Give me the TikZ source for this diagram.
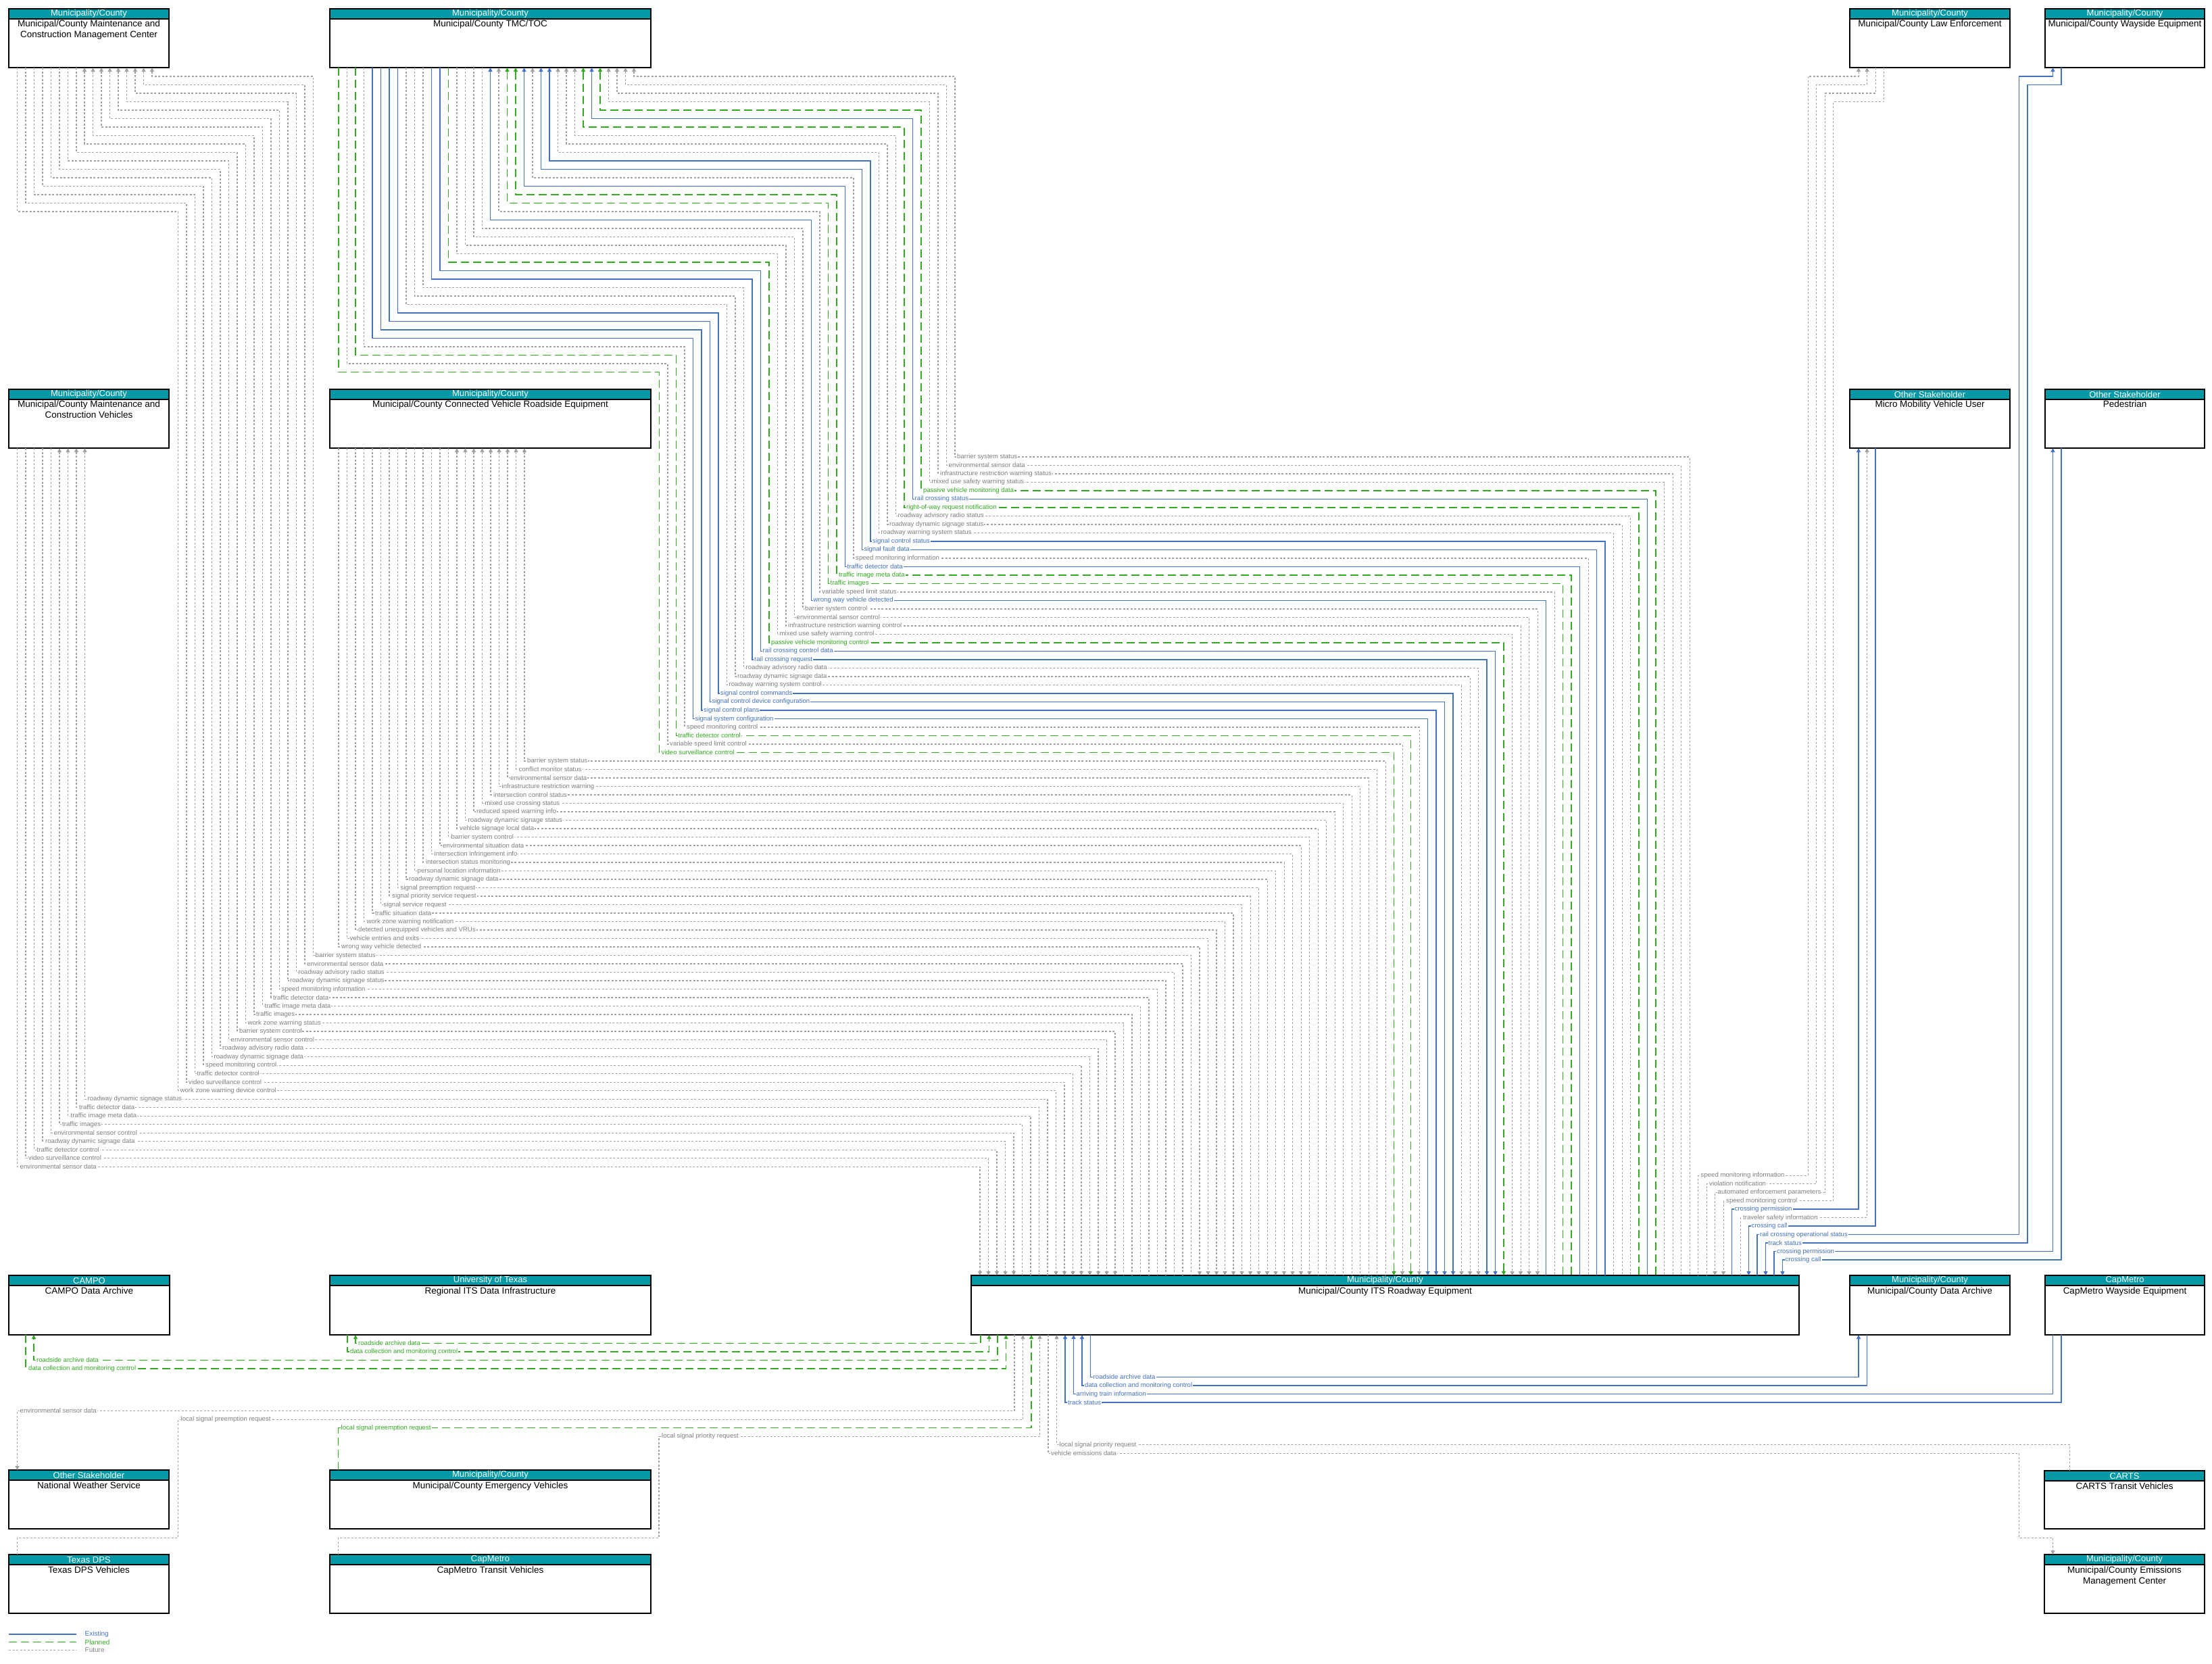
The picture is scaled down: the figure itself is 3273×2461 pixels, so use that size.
\documentclass[tikz,border=0pt]{standalone}
\usepackage{fontspec}
\setmainfont{Liberation Sans}
\usetikzlibrary{arrows.meta}
\definecolor{cblue}{RGB}{68,114,196}
\definecolor{cgreen}{RGB}{51,170,34}
\definecolor{cgray}{RGB}{162,162,162}
\definecolor{cgtext}{RGB}{128,128,128}
\definecolor{cteal}{RGB}{0,153,165}
\newcommand\lblfont{\fontsize{9.6}{10}\selectfont}
\newcommand\entity[7]{%
  \node[entbox, minimum width=#4pt, minimum height=#5pt] (#1) at (#2,#3) {};
  \fill[cteal] (#1.north west) rectangle ([yshift=-15pt]#1.north east);
  \draw[line width=1.1pt] ([yshift=-15pt]#1.north west) -- ([yshift=-15pt]#1.north east);
  \draw[line width=1.3pt] (#1.north west) rectangle (#1.south east);
  \node[hdrtxt] (#1-s) at ([yshift=-7.6pt]#1.north) {#6};
  \node[nametxt] (#1-t) at ([yshift=-17pt]#1.north) {#7};
}
\begin{document}
\begin{tikzpicture}[x=1pt,y=-1pt,
  entbox/.style={rectangle, anchor=north west, fill=white, inner sep=0pt, outer sep=0pt},
  hdrtxt/.style={text=white, inner sep=0pt, font=\fontsize{13}{14}\selectfont},
  nametxt/.style={anchor=north, align=center, inner sep=0pt, font=\fontsize{13.5}{16}\selectfont},
  lnE/.style={draw=cblue, line width=1.35pt},
  lnP/.style={draw=cgreen, line width=1.7pt, dash pattern=on 12pt off 6pt},
  lnF/.style={draw=cgray, line width=1.05pt, dash pattern=on 3pt off 2.5pt},
  lbl/.style={anchor=west, fill=white, inner xsep=1pt, inner ysep=0.6pt, font=\lblfont},
  txE/.style={lbl, text=cblue},
  txP/.style={lbl, text=cgreen},
  txF/.style={lbl, text=cgtext},
  tipS/.style={{Triangle[width=6pt,length=6pt]}-},
  tipE/.style={-{Triangle[width=6pt,length=6pt]}},
  lgtxt/.style={anchor=west, inner sep=0pt, font=\fontsize{10}{11}\selectfont}
]
\useasboundingbox (0,0) rectangle (3273,2461);

% ---------------- entities ----------------
\entity{MCM}{13}{13}{237}{87}{Municipality/County}{Municipal/County Maintenance and\\Construction Management Center}
\entity{TMC}{488}{13}{475}{87}{Municipality/County}{Municipal/County TMC/TOC}
\entity{LE}{2737}{13}{237}{87}{Municipality/County}{Municipal/County Law Enforcement}
\entity{WE}{3026}{13}{236}{87}{Municipality/County}{Municipal/County Wayside Equipment}
\entity{MCV}{13}{576}{237}{87}{Municipality/County}{Municipal/County Maintenance and\\Construction Vehicles}
\entity{CV}{488}{576}{475}{87}{Municipality/County}{Municipal/County Connected Vehicle Roadside Equipment}
\entity{MM}{2737}{576}{237}{87}{Other Stakeholder}{Micro Mobility Vehicle User}
\entity{PED}{3026}{576}{236}{87}{Other Stakeholder}{Pedestrian}
\entity{CAMPO}{13}{1887}{238}{88}{CAMPO}{CAMPO Data Archive}
\entity{UT}{488}{1887}{475}{88}{University of Texas}{Regional ITS Data Infrastructure}
\entity{RE}{1437}{1887}{1225}{88}{Municipality/County}{Municipal/County ITS Roadway Equipment}
\entity{DA}{2737}{1887}{237}{88}{Municipality/County}{Municipal/County Data Archive}
\entity{CW}{3026}{1887}{236}{88}{CapMetro}{CapMetro Wayside Equipment}
\entity{NWS}{13}{2175}{237}{87}{Other Stakeholder}{National Weather Service}
\entity{EV}{488}{2175}{475}{87}{Municipality/County}{Municipal/County Emergency Vehicles}
\entity{CARTS}{3025}{2176}{237}{86}{CARTS}{CARTS Transit Vehicles}
\entity{DPS}{13}{2300}{237}{87}{Texas DPS}{Texas DPS Vehicles}
\entity{CT}{488}{2300}{475}{87}{CapMetro}{CapMetro Transit Vehicles}
\entity{EM}{3025}{2300}{237}{87}{Municipality/County}{Municipal/County Emissions\\Management Center}

% ---------------- TMC <-> RE ----------------
\foreach \nm/\s/\t [count=\n from 0] in {
barrier system status/lnF/txF,
environmental sensor data/lnF/txF,
infrastructure restriction warning status/lnF/txF,
mixed use safety warning status/lnF/txF,
passive vehicle monitoring data/lnP/txP,
rail crossing status/lnE/txE,
right-of-way request notification/lnP/txP,
roadway advisory radio status/lnF/txF,
roadway dynamic signage status/lnF/txF,
roadway warning system status/lnF/txF,
signal control status/lnE/txE,
signal fault data/lnE/txE,
speed monitoring information/lnF/txF,
traffic detector data/lnE/txE,
traffic image meta data/lnP/txP,
traffic images/lnP/txP,
variable speed limit status/lnF/txF,
wrong way vehicle detected/lnE/txE,
barrier system control/lnF/txF,
environmental sensor control/lnF/txF,
infrastructure restriction warning control/lnF/txF,
mixed use safety warning control/lnF/txF,
passive vehicle monitoring control/lnP/txP,
rail crossing control data/lnE/txE,
rail crossing request/lnE/txE,
roadway advisory radio data/lnF/txF,
roadway dynamic signage data/lnF/txF,
roadway warning system control/lnF/txF,
signal control commands/lnE/txE,
signal control device configuration/lnE/txE,
signal control plans/lnE/txE,
signal system configuration/lnE/txE,
speed monitoring control/lnF/txF,
traffic detector control/lnP/txP,
variable speed limit control/lnF/txF,
video surveillance control/lnP/txP}{
  \pgfmathsetmacro\xR{2500-12.5*\n}
  \pgfmathsetmacro\yH{676+12.5*\n}
  \ifnum\n<18
    \pgfmathsetmacro\xT{938-12.5*\n}
    \pgfmathsetmacro\yJ{113+12.5*\n}
    \pgfmathsetmacro\xV{1413-12.5*\n}
    \def\tp{tipS}
  \else
    \pgfmathsetmacro\xT{713.5-12.5*(\n-18)}
    \pgfmathsetmacro\yJ{338+12.5*(\n-18)}
    \pgfmathsetmacro\xV{1188-12.5*(\n-18)}
    \def\tp{tipE}
  \fi
  \draw[\s,\tp] (\xT,0 |- TMC.south) |- (\xV,\yJ) |- (\xR,\yH) -- (\xR,0 |- RE.north);
  \node[\t] (ta\n) at (\xV+2,\yH) {\nm};
}

% ---------------- CV RSE <-> RE ----------------
\foreach \nm [count=\k from 0] in {
barrier system status, conflict monitor status, environmental sensor data,
infrastructure restriction warning, intersection control status, mixed use crossing status,
reduced speed warning info, roadway dynamic signage status, vehicle signage local data,
barrier system control, environmental situation data, intersection infringement info,
intersection status monitoring, personal location information, roadway dynamic signage data,
signal preemption request, signal priority service request, signal service request,
traffic situation data, work zone warning notification, detected unequipped vehicles and VRUs,
vehicle entries and exits, wrong way vehicle detected}{
  \pgfmathsetmacro\xR{2500-12.5*(\k+36)}
  \pgfmathsetmacro\yH{676+12.5*(\k+36)}
  \pgfmathsetmacro\xT{776-12.5*\k}
  \ifnum\k<9 \def\tp{tipS}\else\def\tp{tipE}\fi
  \draw[lnF,\tp] (\xT,0 |- CV.south) |- (\xR,\yH) -- (\xR,0 |- RE.north);
  \node[txF] (tb\k) at (\xT+3,\yH) {\nm};
}

% ---------------- Maint. Center <-> RE ----------------
\foreach \nm [count=\p from 0] in {
barrier system status, environmental sensor data, roadway advisory radio status,
roadway dynamic signage status, speed monitoring information, traffic detector data,
traffic image meta data, traffic images, work zone warning status,
barrier system control, environmental sensor control, roadway advisory radio data,
roadway dynamic signage data, speed monitoring control, traffic detector control,
video surveillance control, work zone warning device control}{
  \pgfmathsetmacro\xR{2500-12.5*(\p+59)}
  \pgfmathsetmacro\yH{676+12.5*(\p+59)}
  \ifnum\p<9
    \pgfmathsetmacro\xT{225-12.5*\p}
    \pgfmathsetmacro\yJ{113+12.5*\p}
    \pgfmathsetmacro\xV{463.5-12.5*\p}
    \def\tp{tipS}
  \else
    \pgfmathsetmacro\xT{113-12.5*(\p-9)}
    \pgfmathsetmacro\yJ{225.5+12.5*(\p-9)}
    \pgfmathsetmacro\xV{351-12.5*(\p-9)}
    \def\tp{tipE}
  \fi
  \draw[lnF,\tp] (\xT,0 |- MCM.south) |- (\xV,\yJ) |- (\xR,\yH) -- (\xR,0 |- RE.north);
  \node[txF] (tc\p) at (\xV+2,\yH) {\nm};
}

% ---------------- Maint. Vehicles <-> RE ----------------
\foreach \nm [count=\r from 0] in {
roadway dynamic signage status, traffic detector data, traffic image meta data, traffic images,
environmental sensor control, roadway dynamic signage data, traffic detector control,
video surveillance control, environmental sensor data}{
  \pgfmathsetmacro\xR{2500-12.5*(\r+76)}
  \pgfmathsetmacro\yH{676+12.5*(\r+76)}
  \pgfmathsetmacro\xT{125.5-12.5*\r}
  \ifnum\r<4 \def\tp{tipS}\else\def\tp{tipE}\fi
  \draw[lnF,\tp] (\xT,0 |- MCV.south) |- (\xR,\yH) -- (\xR,0 |- RE.north);
  \node[txF] (td\r) at (\xT+3,\yH) {\nm};
}

% ---------------- right-hand flows ----------------
\draw[lnF,tipS] (2750,0 |- LE.south) |- (2675,113) |- (2512.5,1739) -- (2512.5,0 |- RE.north);
\node[txF] (te0) at (2515.5,1739) {speed monitoring information};
\draw[lnF,tipS] (2762.5,0 |- LE.south) |- (2687.5,125.5) |- (2525,1751.5) -- (2525,0 |- RE.north);
\node[txF] (te1) at (2528,1751.5) {violation notification};
\draw[lnF,tipE] (2775,0 |- LE.south) |- (2700,138) |- (2537.5,1764) -- (2537.5,0 |- RE.north);
\node[txF] (te2) at (2540.5,1764) {automated enforcement parameters};
\draw[lnF,tipE] (2787.5,0 |- LE.south) |- (2712.5,150.5) |- (2550,1776.5) -- (2550,0 |- RE.north);
\node[txF] (te3) at (2553,1776.5) {speed monitoring control};
\draw[lnE,tipS] (2750,0 |- MM.south) |- (2562.5,1789) -- (2562.5,0 |- RE.north);
\node[txE] (te4) at (2565.5,1789) {crossing permission};
\draw[lnF,tipS] (2762.5,0 |- MM.south) |- (2575,1801.5) -- (2575,0 |- RE.north);
\node[txF] (te5) at (2578,1801.5) {traveler safety information};
\draw[lnE,tipE] (2775,0 |- MM.south) |- (2587.5,1814) -- (2587.5,0 |- RE.north);
\node[txE] (te6) at (2590.5,1814) {crossing call};
\draw[lnE,tipS] (3037.5,0 |- WE.south) |- (2987.5,113) |- (2600,1826.5) -- (2600,0 |- RE.north);
\node[txE] (te7) at (2603,1826.5) {rail crossing operational status};
\draw[lnE,tipE] (3050,0 |- WE.south) |- (3000,125.5) |- (2612.5,1839) -- (2612.5,0 |- RE.north);
\node[txE] (te8) at (2615.5,1839) {track status};
\draw[lnE,tipS] (3037.5,0 |- PED.south) |- (2625,1851.5) -- (2625,0 |- RE.north);
\node[txE] (te9) at (2628,1851.5) {crossing permission};
\draw[lnE,tipE] (3050,0 |- PED.south) |- (2637.5,1864) -- (2637.5,0 |- RE.north);
\node[txE] (te10) at (2640.5,1864) {crossing call};

% ---------------- bottom flows ----------------
\draw[lnP,tipE] (1451,0 |- RE.south) |- (526,1987.5) -- (526,0 |- UT.south);
\node[txP] (tf0) at (529,1987.5) {roadside archive data};
\draw[lnP,tipE] (514,0 |- UT.south) |- (1463.5,2000) -- (1463.5,0 |- RE.south);
\node[txP] (tf1) at (517,2000) {data collection and monitoring control};
\draw[lnP,tipE] (1476,0 |- RE.south) |- (50,2012.5) -- (50,0 |- CAMPO.south);
\node[txP] (tf2) at (53,2012.5) {roadside archive data};
\draw[lnP,tipE] (38,0 |- CAMPO.south) |- (1488.5,2025) -- (1488.5,0 |- RE.south);
\node[txP] (tf3) at (41,2025) {data collection and monitoring control};
\draw[lnF,tipE] (1501,0 |- RE.south) |- (25.5,2087.5) -- (25.5,0 |- NWS.north);
\node[txF] (tf4) at (28.5,2087.5) {environmental sensor data};
\draw[lnF,tipE] (25.5,0 |- DPS.north) |- (263.5,2275) |- (1513.5,2100) -- (1513.5,0 |- RE.south);
\node[txF] (tf5) at (266.5,2100) {local signal preemption request};
\draw[lnP,tipE] (500.5,0 |- EV.north) |- (1526,2112.5) -- (1526,0 |- RE.south);
\node[txP] (tf6) at (503.5,2112.5) {local signal preemption request};
\draw[lnF,tipE] (500.5,0 |- CT.north) |- (975,2275) |- (1538.5,2125) -- (1538.5,0 |- RE.south);
\node[txF] (tf7) at (978,2125) {local signal priority request};
\draw[lnF,tipE] (1551,0 |- RE.south) |- (2987.5,2150) |- (3037.5,2275) -- (3037.5,0 |- EM.north);
\node[txF] (tf8) at (1554,2150) {vehicle emissions data};
\draw[lnF,tipE] (3062.5,0 |- CARTS.north) |- (1563.5,2137.5) -- (1563.5,0 |- RE.south);
\node[txF] (tf9) at (1566.5,2137.5) {local signal priority request};
\draw[lnE,tipE] (3050,0 |- CW.south) |- (1576,2075) -- (1576,0 |- RE.south);
\node[txE] (tf10) at (1579,2075) {track status};
\draw[lnE,tipE] (3037.5,0 |- CW.south) |- (1588.5,2062.5) -- (1588.5,0 |- RE.south);
\node[txE] (tf11) at (1591.5,2062.5) {arriving train information};
\draw[lnE,tipE] (2762.5,0 |- DA.south) |- (1601,2050) -- (1601,0 |- RE.south);
\node[txE] (tf12) at (1604,2050) {data collection and monitoring control};
\draw[lnE,tipE] (1613.5,0 |- RE.south) |- (2750,2037.5) -- (2750,0 |- DA.south);
\node[txE] (tf13) at (1616.5,2037.5) {roadside archive data};

% ---------------- legend ----------------
\coordinate (lgE1) at (13,2418); \coordinate (lgE2) at (113,2418);
\coordinate (lgP1) at (13,2429.5); \coordinate (lgP2) at (113,2429.5);
\coordinate (lgF1) at (13,2441); \coordinate (lgF2) at (113,2441);
\draw[lnE] (lgE1) -- (lgE2);
\draw[lnP] (lgP1) -- (lgP2);
\draw[lnF] (lgF1) -- (lgF2);
\node[lgtxt, text=cblue] (lgEt) at (125.5,2418) {Existing};
\node[lgtxt, text=cgreen] (lgPt) at (125.5,2429.5) {Planned};
\node[lgtxt, text=cgtext] (lgFt) at (125.5,2441) {Future};
\end{tikzpicture}
\end{document}
